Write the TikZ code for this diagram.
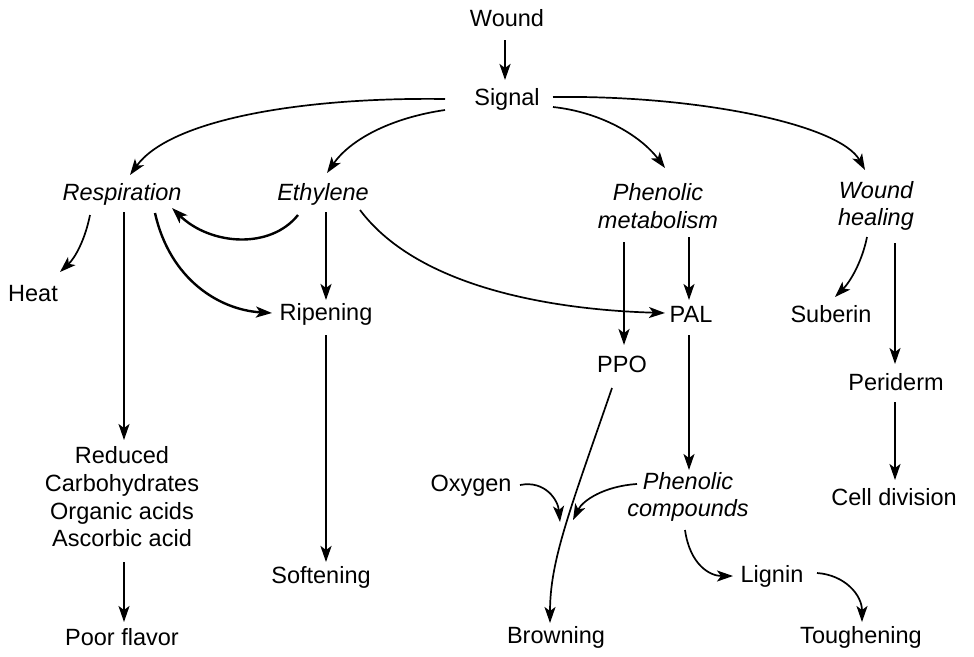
\documentclass[tikz,border=0pt]{standalone}
\usepackage{fontspec}
\setmainfont{Liberation Sans}
\usetikzlibrary{arrows.meta,calc}
\begin{document}
\begin{tikzpicture}[x=1pt,y=-1pt,
  lbl/.style={font=\fontsize{23.5}{27.7}\selectfont, inner sep=3pt, align=center},
  it/.style={lbl, font=\fontsize{23.5}{27.7}\selectfont\itshape},
  arr/.style={-{Stealth[length=16pt,width=11pt,inset=4pt]}, line width=1.7pt},
  tarr/.style={arr, line width=2.4pt}]
\useasboundingbox (0,0) rectangle (974,656);
\node[lbl] (wound) at (507,18) {Wound};
\node[lbl] (sig) at (507,99) {Signal};
\node[it] (resp) at (122,194) {Respiration};
\node[it] (eth) at (323,194) {Ethylene};
\node[it] (phm) at (658,206) {Phenolic\\metabolism};
\node[it] (wh) at (876,206) {Wound\\healing};
\node[lbl] (heat) at (33,294) {Heat};
\node[lbl] (rip) at (326,314) {Ripening};
\node[lbl] (pal) at (691,314) {PAL};
\node[lbl] (sub) at (831,314) {Suberin};
\node[lbl] (ppo) at (622,364) {PPO};
\node[lbl] (peri) at (896,382) {Periderm};
\node[lbl] (red) at (122,497) {Reduced\\Carbohydrates\\Organic acids\\Ascorbic acid};
\node[lbl] (soft) at (321,577) {Softening};
\node[lbl] (oxy) at (471,486) {Oxygen};
\node[it] (phc) at (688,497) {Phenolic\\compounds};
\node[lbl] (cell) at (894,497) {Cell division};
\node[lbl] (lig) at (772,576) {Lignin};
\node[lbl] (poor) at (122,637) {Poor flavor};
\node[lbl] (brown) at (556,637) {Browning};
\node[lbl] (tough) at (861,637) {Toughening};
\coordinate (j1) at (560,522);
\coordinate (j2) at (573,520);

\draw[tarr] ($(wound)+(-2,22)$) -- ($(sig)+(-2,-19)$);
\draw[arr] ($(sig)+(-62,0)$) .. controls (300,97) and (170,120) .. ($(resp)+(8,-19)$);
\draw[arr] ($(sig)+(-62,11)$) .. controls (390,118) and (350,140) .. ($(eth)+(4,-21)$);
\draw[arr] ($(sig)+(46,8)$) .. controls (600,112) and (640,135) .. ($(phm)+(7,-38)$);
\draw[arr] ($(sig)+(46,-2)$) .. controls (700,95) and (840,125) .. ($(wh)+(-11,-36)$);
\draw[arr] ($(resp)+(-32,21)$) .. controls (85,240) and (75,258) .. ($(heat)+(27,-22)$);
\draw[arr] ($(resp)+(2,18)$) -- ($(red)+(2,-57)$);
\draw[tarr] ($(resp)+(33,19)$) .. controls (170,280) and (220,310) .. ($(rip)+(-54,-1)$);
\draw[tarr] ($(eth)+(-25,21)$) .. controls (270,250) and (210,245) .. ($(resp)+(50,14)$);
\draw[tarr] ($(eth)+(3,18)$) -- ($(rip)+(0,-14)$);
\draw[arr] ($(eth)+(37,16)$) .. controls (420,290) and (560,310) .. ($(pal)+(-26,-1)$);
\draw[tarr] ($(phm)+(-34,36)$) -- ($(ppo)+(2,-19)$);
\draw[arr] ($(phm)+(31,31)$) -- ($(pal)+(-2,-14)$);
\draw[arr] ($(wh)+(-9,31)$) .. controls (862,262) and (850,282) .. ($(sub)+(4,-17)$);
\draw[arr] ($(wh)+(19,37)$) -- ($(peri)+(-1,-18)$);
\draw[tarr] ($(rip)+(0,21)$) -- ($(soft)+(5,-15)$);
\draw[arr] ($(red)+(2,65)$) -- ($(poor)+(2,-15)$);
\draw[arr] ($(pal)+(-2,21)$) -- ($(phc)+(1,-27)$);
\draw[arr] ($(peri)+(-1,20)$) -- ($(cell)+(1,-17)$);
\draw[arr] ($(ppo)+(-10,24)$) .. controls (570,510) and (550,560) .. ($(brown)+(-6,-14)$);
\draw[arr] ($(oxy)+(49,-1)$) .. controls (545,480) and (558,500) .. (j1);
\draw[arr] ($(phc)+(-51,-13)$) .. controls (605,486) and (583,500) .. (j2);
\draw[arr] ($(phc)+(-3,33)$) .. controls (690,565) and (710,576) .. ($(lig)+(-39,0)$);
\draw[arr] ($(lig)+(45,-3)$) .. controls (845,575) and (862,595) .. ($(tough)+(1,-15)$);
\end{tikzpicture}
\end{document}
